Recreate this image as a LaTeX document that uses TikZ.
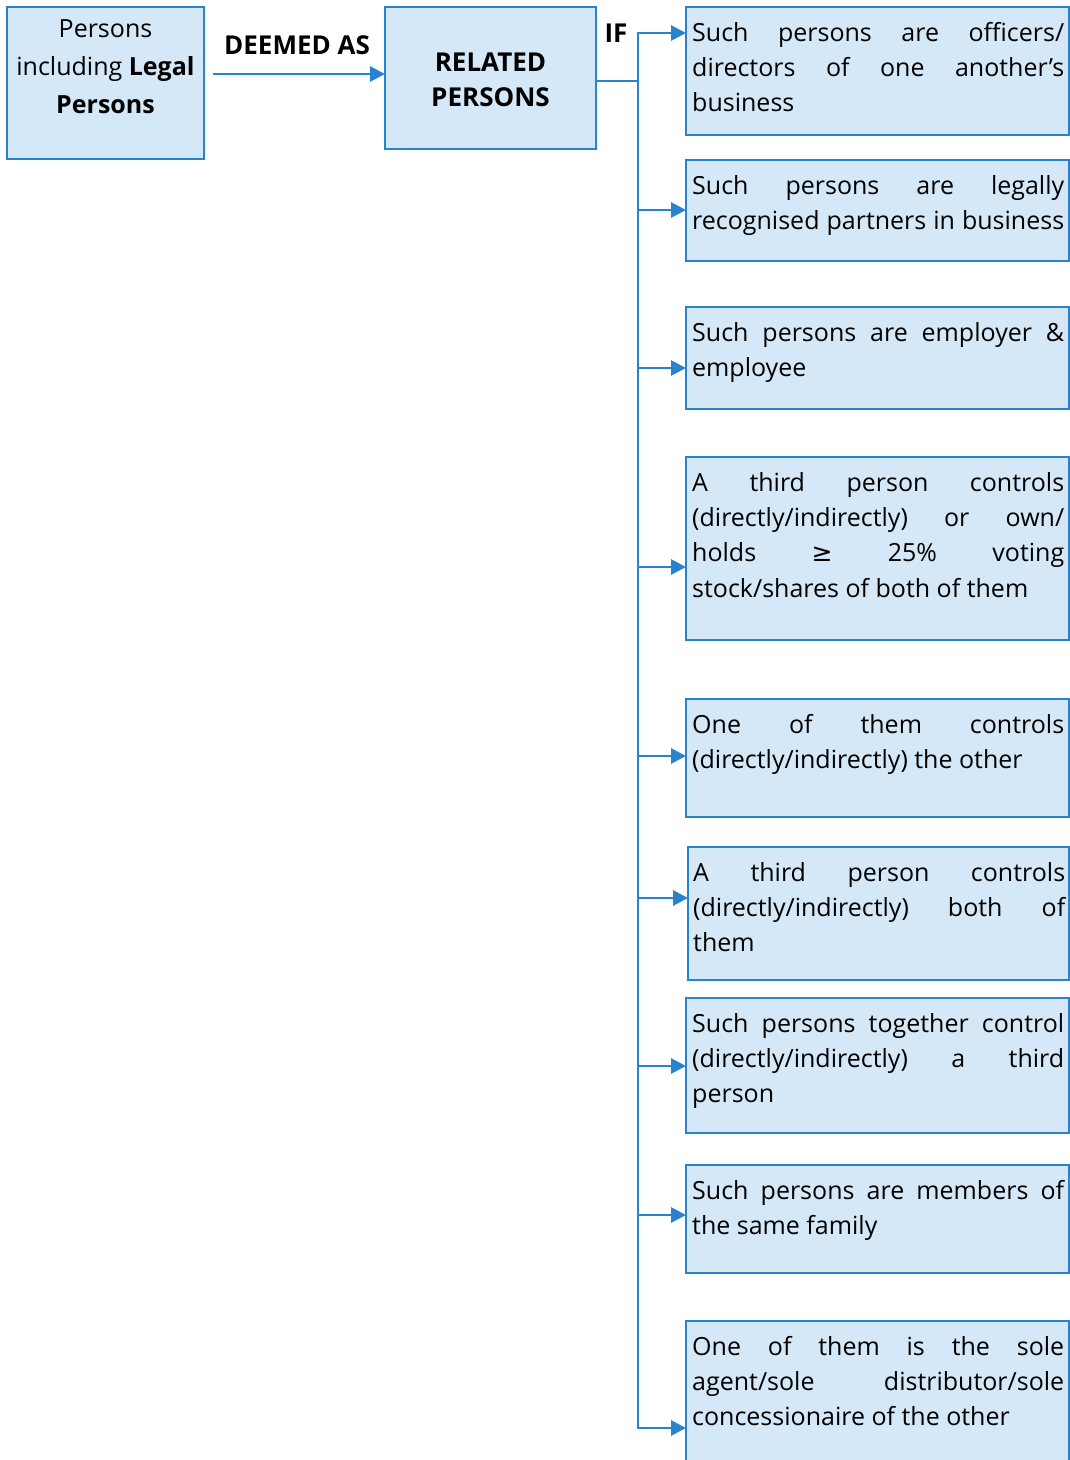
\documentclass[tikz,border=0pt]{standalone}
\usepackage{fontspec}
\setmainfont{Open Sans}
\newfontfamily\dejavu{DejaVu Sans}
\usetikzlibrary{arrows.meta}
\definecolor{bord}{RGB}{40,130,205}
\definecolor{fillb}{RGB}{213,232,247}
\newcommand\jline[1]{\hbox to 372pt{#1}}
\newcommand\lline[1]{\hbox{#1}}
\newcommand\boxtext[1]{\vtop{\fontsize{25}{35.4}\selectfont\baselineskip=35.4pt\relax #1}}
\newcommand\ctext[3]{\vtop{\fontsize{#1}{#2}\selectfont\baselineskip=#2pt\relax #3}}
\newcommand\cenline[2]{\hbox to #1pt{\hss #2\hss}}
\begin{document}
\begin{tikzpicture}[x=1pt,y=-1pt,
  rbox/.style={draw=bord, fill=fillb, line width=2.8pt, rectangle, inner sep=0pt, outer sep=0pt, anchor=north west},
  txt/.style={inner sep=0pt, anchor=base west, text=black, font=\fontsize{25}{35.4}\selectfont},
  lbl/.style={inner sep=0pt, anchor=base, text=black, font=\fontsize{26}{30}\selectfont\bfseries},
  ln/.style={draw=bord, line width=2.9pt},
  tip/.tip={Triangle[length=15pt,width=15pt]},
  arr/.style={ln, -{tip}},
]
\clip (0,0) rectangle (1070,1460);
% left boxes
\node[rbox, minimum width=197pt, minimum height=152pt] (A) at (7,7) {};
\node[rbox, minimum width=211pt, minimum height=142pt] (B) at (385,7) {};
% right boxes
\node[rbox, minimum width=383pt, minimum height=128pt] (b1) at (686,7) {};
\node[rbox, minimum width=383pt, minimum height=101pt] (b2) at (686,160) {};
\node[rbox, minimum width=383pt, minimum height=102pt] (b3) at (686,307) {};
\node[rbox, minimum width=383pt, minimum height=183pt] (b4) at (686,457) {};
\node[rbox, minimum width=383pt, minimum height=118pt] (b5) at (686,699) {};
\node[rbox, minimum width=381pt, minimum height=133pt] (b6) at (688,847) {};
\node[rbox, minimum width=383pt, minimum height=135pt] (b7) at (686,998) {};
\node[rbox, minimum width=383pt, minimum height=108pt] (b8) at (686,1165) {};
\node[rbox, minimum width=383pt, minimum height=170pt] (b9) at (686,1321) {};
% texts of left boxes
\node[txt, anchor=base] (tA) at (105.5,37) {\ctext{25}{38}{\cenline{190}{Persons}\cenline{190}{including \textbf{Legal}}\cenline{190}{\textbf{Persons}}}};
\node[txt, anchor=base] (tB) at (490.5,71) {\ctext{26}{35}{\cenline{200}{\textbf{RELATED}}\cenline{200}{\textbf{PERSONS}}}};
\node[lbl] (deemed) at (297,54) {DEEMED AS};
\node[lbl] (if) at (616,42) {IF};
% texts of right boxes
\node[txt] (t1) at (692,41) {\boxtext{\jline{Such persons are officers/}\jline{directors of one another’s}\lline{business}}};
\node[txt] (t2) at (692,194) {\boxtext{\jline{Such persons are legally}\jline{recognised partners in business}}};
\node[txt] (t3) at (692,341) {\boxtext{\jline{Such persons are employer \&}\lline{employee}}};
\node[txt] (t4) at (692,491) {\boxtext{\jline{A third person controls}\jline{(directly/indirectly) or own/}\jline{holds {\dejavu ≥} 25\% voting}\lline{stock/shares of both of them}}};
\node[txt] (t5) at (692,733) {\boxtext{\jline{One of them controls}\lline{(directly/indirectly) the other}}};
\node[txt] (t6) at (693,881) {\boxtext{\jline{A third person controls}\jline{(directly/indirectly) both of}\lline{them}}};
\node[txt] (t7) at (692,1032) {\boxtext{\jline{Such persons together control}\jline{(directly/indirectly) a third}\lline{person}}};
\node[txt] (t8) at (692,1199) {\boxtext{\jline{Such persons are members of}\lline{the same family}}};
\node[txt] (t9) at (692,1355) {\boxtext{\jline{One of them is the sole}\jline{agent/sole distributor/sole}\lline{concessionaire of the other}}};
% connectors
\coordinate (a1) at (213,74);
\draw[arr] (a1) -- (a1 -| B.west);
\coordinate (bj) at (638,81);
\draw[ln] (bj -| B.east) -- (bj);
\coordinate (c1) at (638,33);
\coordinate (c2) at (638,210);
\coordinate (c3) at (638,368);
\coordinate (c4) at (638,567);
\coordinate (c5) at (638,756);
\coordinate (c6) at (638,898);
\coordinate (c7) at (638,1066);
\coordinate (c8) at (638,1215);
\coordinate (c9) at (638,1428);
\draw[ln, {tip}-{tip}] (c1 -| b1.west) -- (c1) -- (c9) -- (c9 -| b9.west);
\foreach \i in {2,...,8} {\draw[arr] (c\i) -- (c\i -| b\i.west);}
\end{tikzpicture}
\end{document}
